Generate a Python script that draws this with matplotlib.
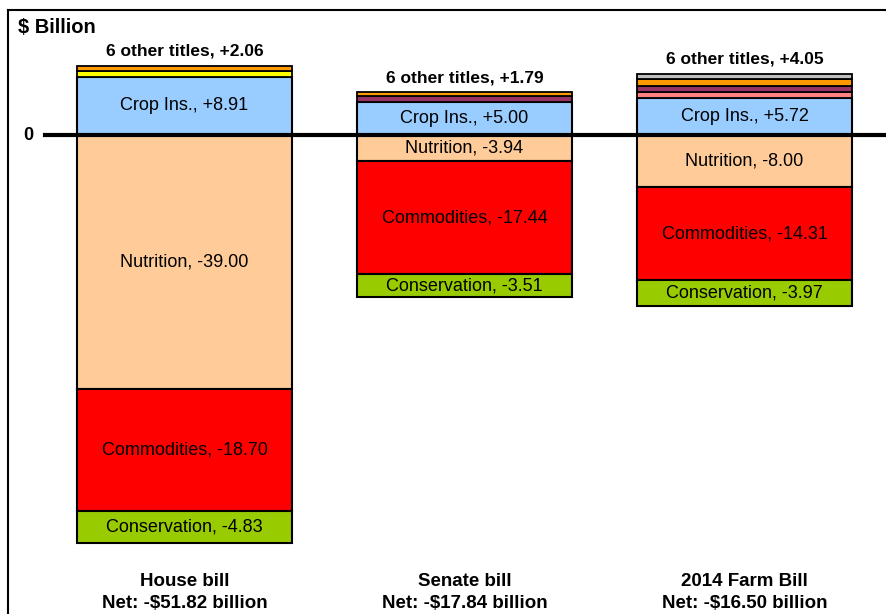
import numpy as np
import matplotlib.pyplot as plt

plt.rcParams['font.family'] = ['Liberation Sans', 'DejaVu Sans']

# Data ($ billion)
bills = ["House bill", "Senate bill", "2014 Farm Bill"]
net = ["Net: -$51.82 billion", "Net: -$17.84 billion", "Net: -$16.50 billion"]

# negative titles (stacked downward from 0)
neg_names = ["Nutrition", "Commodities", "Conservation"]
nutrition = [-39.00, -3.94, -8.00]
commodities = [-18.70, -17.44, -14.31]
conservation = [-4.83, -3.51, -3.97]

# positive titles (stacked upward from 0)
crop_ins = [8.91, 5.00, 5.72]
other_total = [2.06, 1.79, 4.05]
# visible pieces of the "6 other titles" block, bottom to top
other_parts = [
    [("#FFFF00", 0.9), ("#FF9900", 0.8)],
    [("#993366", 1.0), ("#FF9900", 0.6)],
    [("#FF8080", 0.9), ("#993366", 0.9), ("#FF9900", 1.0), ("#C0C0C0", 0.9)],
]

neg_colors = ["#FFCC99", "#FF0000", "#99CC00"]
crop_color = "#99CCFF"

fig = plt.figure(figsize=(8.86, 6.14), dpi=100)
ax = fig.add_axes([8 / 886, -20 / 614, 892 / 886, 624 / 614])

x = np.arange(len(bills))
w = 0.768
ppb = 6.52  # pixels per billion in reference
ax.set_xlim(-0.63, 2.555)
ax.set_ylim(-(634 - 135) / ppb, (135 - 10) / ppb)

# negative stack
bottom = np.zeros(3)
for name, vals, col in zip(neg_names, [nutrition, commodities, conservation], neg_colors):
    vals = np.array(vals)
    ax.bar(x, vals, w, bottom=bottom, color=col, edgecolor="black", linewidth=1.5, zorder=2)
    for i in range(3):
        ax.text(x[i], bottom[i] + vals[i] / 2, f"{name}, {vals[i]:.2f}",
                ha="center", va="center", fontsize=13, zorder=4)
    bottom = bottom + vals

# crop insurance
crop = np.array(crop_ins)
ax.bar(x, crop, w, bottom=0, color=crop_color, edgecolor="black", linewidth=1.5, zorder=2)
for i in range(3):
    ax.text(x[i], crop[i] / 2, f"Crop Ins., +{crop[i]:.2f}",
            ha="center", va="center", fontsize=13, zorder=4)

# other titles
for i in range(3):
    b = crop[i]
    for col, v in other_parts[i]:
        ax.bar(x[i], v, w, bottom=b, color=col, edgecolor="black", linewidth=1.3, zorder=2)
        b += v
    ax.annotate(f"6 other titles, +{other_total[i]:.2f}", (x[i], b),
                xytext=(0, 5), textcoords="offset points",
                ha="center", va="bottom", fontsize=12.5, fontweight="bold")

# zero line
ax.plot([-0.498, 2.6], [0, 0], color="black", lw=3, zorder=3, clip_on=False)
ax.text(-0.54, 0, "0", ha="right", va="center", fontsize=13, fontweight="bold")

# bill labels
for i in range(3):
    ax.text(x[i], -(581 - 135) / ppb, bills[i], ha="center", va="center",
            fontsize=13.5, fontweight="bold")
    ax.text(x[i], -(604 - 135) / ppb, net[i], ha="center", va="center",
            fontsize=13.5, fontweight="bold")

ax.text(0.011, 0.972, "$ Billion", transform=ax.transAxes, ha="left", va="center",
        fontsize=14.5, fontweight="bold")

ax.set_xticks([])
ax.set_yticks([])
for s in ax.spines.values():
    s.set_linewidth(1.5)

fig.savefig("out.png", dpi=100)
